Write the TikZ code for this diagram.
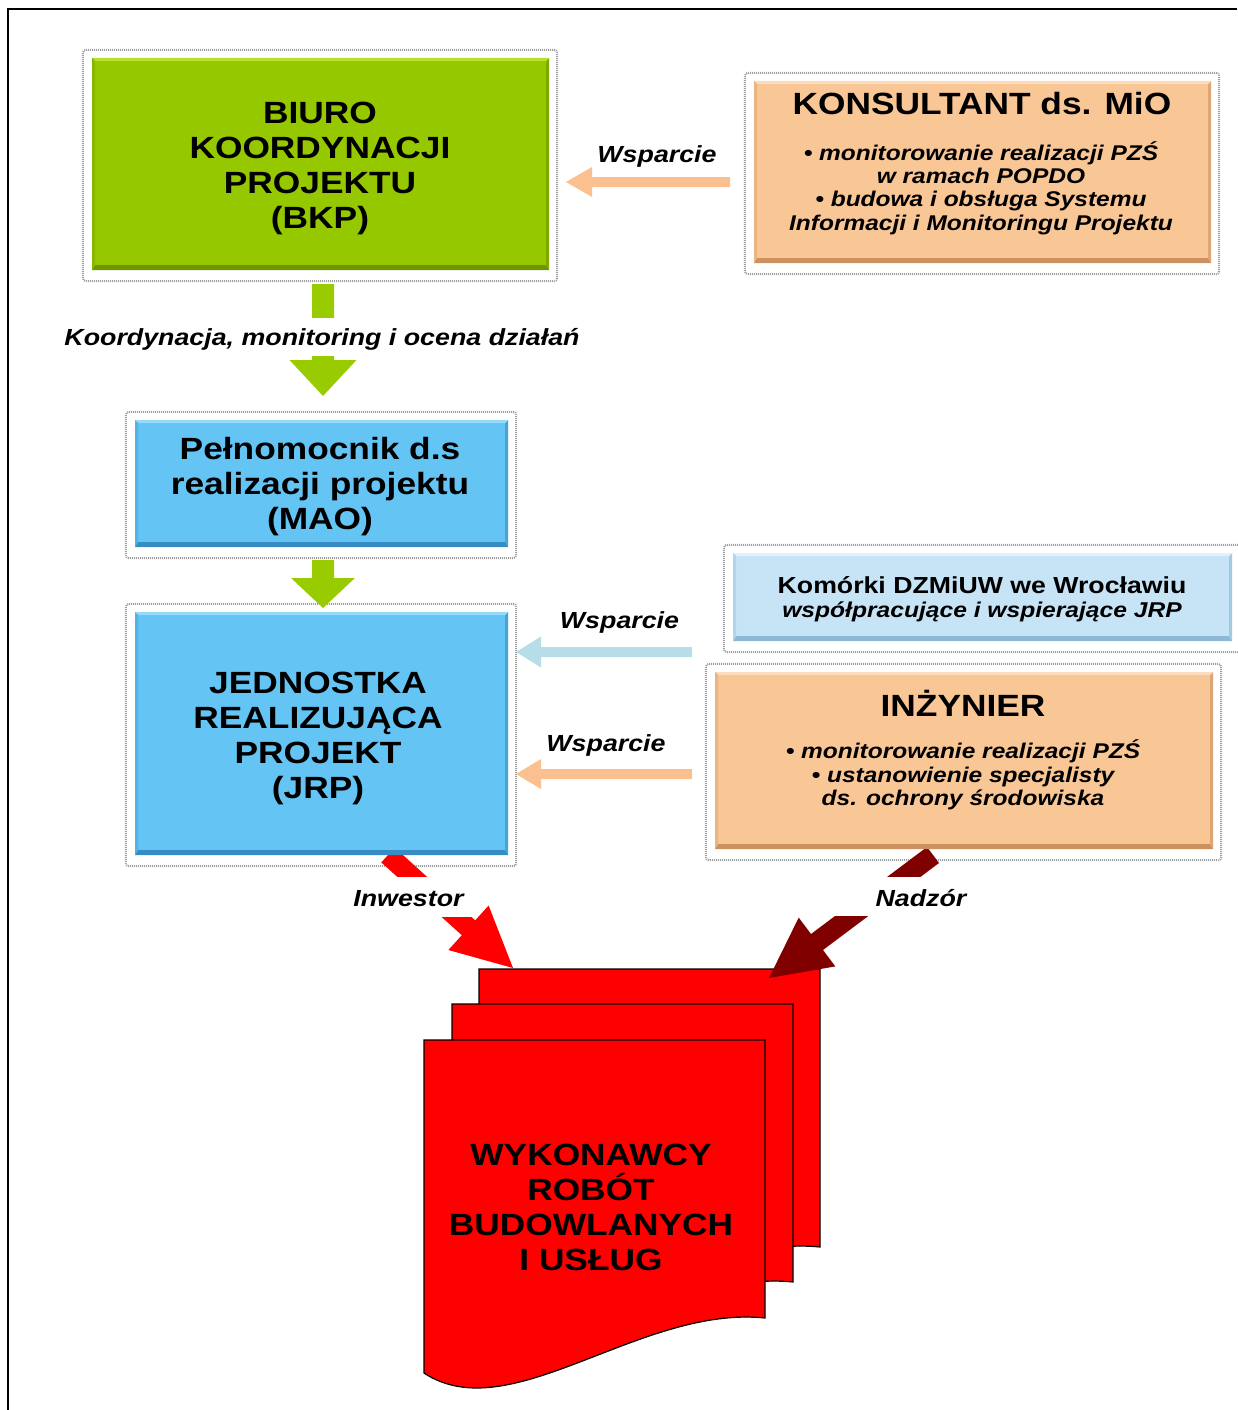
\documentclass[tikz,border=0pt]{standalone}
\usepackage{fontspec}
\setmainfont{Liberation Sans}[FakeStretch=1.15]
\usetikzlibrary{calc}
\pgfdeclarelayer{bg}
\pgfsetlayers{bg,main}
\definecolor{bkpgreen}{RGB}{150,200,0}
\definecolor{bkpdark}{RGB}{110,150,0}
\definecolor{bkplight}{RGB}{185,225,40}
\definecolor{bluebox}{RGB}{100,197,245}
\definecolor{bluedark}{RGB}{55,140,195}
\definecolor{bluelight}{RGB}{150,220,250}
\definecolor{peach}{RGB}{249,198,150}
\definecolor{peachdark}{RGB}{205,145,95}
\definecolor{peachlight}{RGB}{252,220,190}
\definecolor{komblue}{RGB}{198,228,246}
\definecolor{komdark}{RGB}{140,185,215}
\definecolor{komlight}{RGB}{225,242,252}
\definecolor{greenarrow}{RGB}{153,204,0}
\definecolor{peacharrow}{RGB}{250,192,143}
\definecolor{bluearrow}{RGB}{183,221,232}
\definecolor{redc}{RGB}{255,0,0}
\definecolor{darkredc}{RGB}{128,0,0}
\newcommand\bigtxt{\fontsize{30.7}{35}\selectfont\bfseries}
\newcommand\bultxt{\fontsize{21.3}{23.4}\selectfont\bfseries\itshape}
\newcommand\labtxt{\fontsize{23.3}{26}\selectfont\bfseries\itshape}
\newcommand\komtxt{\fontsize{23.2}{24}\selectfont\bfseries}
\newcommand\komittxt{\fontsize{21.4}{24}\selectfont\bfseries\itshape}
\newcommand\blkarrow[6]{%
  \coordinate (ba-h) at ($(#2)!#5!(#1)$);
  \fill[#6] ($(#1)!#3!90:(#2)$) -- ($(ba-h)!#3!90:(#2)$) -- ($(ba-h)!#4!90:(#2)$) -- (#2) -- ($(ba-h)!#4!-90:(#2)$) -- ($(ba-h)!#3!-90:(#2)$) -- ($(#1)!#3!-90:(#2)$) -- cycle;}
\tikzset{
  bevelbox/.style n args={3}{draw=none, fill=#1, inner sep=0pt, path picture={
    \fill[#2] (path picture bounding box.south west) -- (path picture bounding box.south east) -- ([xshift=-3pt,yshift=5pt]path picture bounding box.south east) -- ([xshift=3pt,yshift=5pt]path picture bounding box.south west) -- cycle;
    \fill[#2!60!#1] (path picture bounding box.north east) -- (path picture bounding box.south east) -- ([xshift=-3pt,yshift=5pt]path picture bounding box.south east) -- ([xshift=-3pt,yshift=-3pt]path picture bounding box.north east) -- cycle;
    \fill[#3] (path picture bounding box.north west) -- (path picture bounding box.north east) -- ([xshift=-3pt,yshift=-3pt]path picture bounding box.north east) -- ([xshift=3pt,yshift=-3pt]path picture bounding box.north west) -- cycle;
    \fill[#2!35!#1] (path picture bounding box.north west) -- (path picture bounding box.south west) -- ([xshift=3pt,yshift=5pt]path picture bounding box.south west) -- ([xshift=3pt,yshift=-3pt]path picture bounding box.north west) -- cycle;
  }},
  glow/.style={fill=white, draw=black!38, line width=2pt, dash pattern=on 1pt off 1pt, rounded corners=3pt},
  docpage/.style={fill=redc, draw=black, line width=1.2pt},
  lab/.style={font=\labtxt, anchor=base},
}
\begin{document}
\begin{tikzpicture}[x=1pt,y=-1pt]
\useasboundingbox (0,0) rectangle (1237,1410);
\draw[line width=2.6pt] (8,1410) -- (8,9) -- (1237,9);

% boxes
\node[bevelbox={bkpgreen}{bkpdark}{bkplight}, minimum width=457pt, minimum height=212pt] (bkp) at (320.5,164) {};
\node[bevelbox={peach}{peachdark}{peachlight}, minimum width=457pt, minimum height=182pt] (kons) at (982.5,172) {};
\node[bevelbox={bluebox}{bluedark}{bluelight}, minimum width=373pt, minimum height=127pt] (mao) at (321.5,483.5) {};
\node[bevelbox={bluebox}{bluedark}{bluelight}, minimum width=373pt, minimum height=243pt] (jrp) at (321.5,733.5) {};
\node[bevelbox={komblue}{komdark}{komlight}, minimum width=499pt, minimum height=88pt] (kom) at (982.5,597) {};
\node[bevelbox={peach}{peachdark}{peachlight}, minimum width=498pt, minimum height=177pt] (inz) at (964,760.5) {};

% texts
\node[font=\bigtxt, align=center] (bkpT) at (320,168) {BIURO\\KOORDYNACJI\\PROJEKTU\\(BKP)};
\node[font=\bigtxt] (konsT) at (982,104) {KONSULTANT ds. MiO};
\node[font=\bultxt, align=center] (konsB) at (981,188) {• monitorowanie realizacji PZŚ\\w ramach POPDO\\• budowa i obsługa Systemu\\Informacji i Monitoringu Projektu};
\node[font=\bigtxt, align=center] (maoT) at (320,486.5) {Pełnomocnik d.s\\realizacji projektu\\(MAO)};
\node[font=\bigtxt, align=center] (jrpT) at (318,738.75) {JEDNOSTKA\\REALIZUJĄCA\\PROJEKT\\(JRP)};
\node[font=\komtxt, align=center] (komT) at (982,599) {Komórki DZMiUW we Wrocławiu\\{\komittxt współpracujące i wspierające JRP}};
\node[font=\bigtxt] (inzT) at (963,703) {INŻYNIER};
\node[font=\bultxt, align=center] (inzB) at (963,775) {• monitorowanie realizacji PZŚ\\• ustanowienie specjalisty\\ds. ochrony środowiska};
\node[font=\bigtxt, align=center] (wykT) at (591,1207) {WYKONAWCY\\ROBÓT\\BUDOWLANYCH\\I USŁUG};

% arrow end points
\coordinate (g1a) at (323,284);
\coordinate (g1b) at (323,396);
\coordinate (g2a) at (323,560);
\coordinate (g2b) at (323,608);
\coordinate (p1a) at (730,182);
\coordinate (p1b) at (566,182);
\coordinate (b1a) at (692,652);
\coordinate (b1b) at (516,652);
\coordinate (p2a) at (692,774);
\coordinate (p2b) at (516,774);
\coordinate (invA) at (388,855);
\coordinate (invB) at (513,968);
\coordinate (nadA) at (933,855);
\coordinate (nadB) at (769,978);

\blkarrow{g1a}{g1b}{11pt}{33.5pt}{36pt}{greenarrow}
\blkarrow{g2a}{g2b}{11pt}{32pt}{30pt}{greenarrow}
\blkarrow{p1a}{p1b}{5pt}{15pt}{26pt}{peacharrow}
\blkarrow{b1a}{b1b}{5pt}{15.5pt}{25pt}{bluearrow}
\blkarrow{p2a}{p2b}{5pt}{15pt}{25pt}{peacharrow}

% labels
\node[lab, fill=white, inner xsep=6pt, inner ysep=0pt, text height=27pt, text depth=11pt] (koord) at (322,345) {Koordynacja, monitoring i ocena działań};
\node[lab] (wsp1) at (657,162) {Wsparcie};
\node[lab] (wsp2) at (619.5,628) {Wsparcie};
\node[lab] (wsp3) at (606,751) {Wsparcie};
\node[lab, fill=white, inner xsep=10pt, inner ysep=0pt, text height=29pt, text depth=11pt] (inw) at (408.5,906) {Inwestor};
\node[lab, fill=white, inner xsep=42pt, inner ysep=0pt, text height=29pt, text depth=10pt] (nad) at (921,906) {Nadzór};

\begin{pgfonlayer}{bg}
  \foreach \b in {bkp,kons,mao,jrp,kom,inz}{
    \draw[glow] ([xshift=-9pt,yshift=8pt]\b.north west) rectangle ([xshift=8pt,yshift=-11pt]\b.south east);
  }
  \foreach \dx/\dy in {55/-71, 28/-36, 0/0}{
    \filldraw[docpage, shift={(\dx,\dy)}] (424,1040) -- (765,1040) -- (765,1318) .. controls (640,1305) and (510,1430) .. (424,1373) -- cycle;
  }
  \blkarrow{invA}{invB}{10pt}{30pt}{60pt}{redc}
  \blkarrow{nadA}{nadB}{10pt}{30.5pt}{60pt}{darkredc}
\end{pgfonlayer}
\end{tikzpicture}
\end{document}
